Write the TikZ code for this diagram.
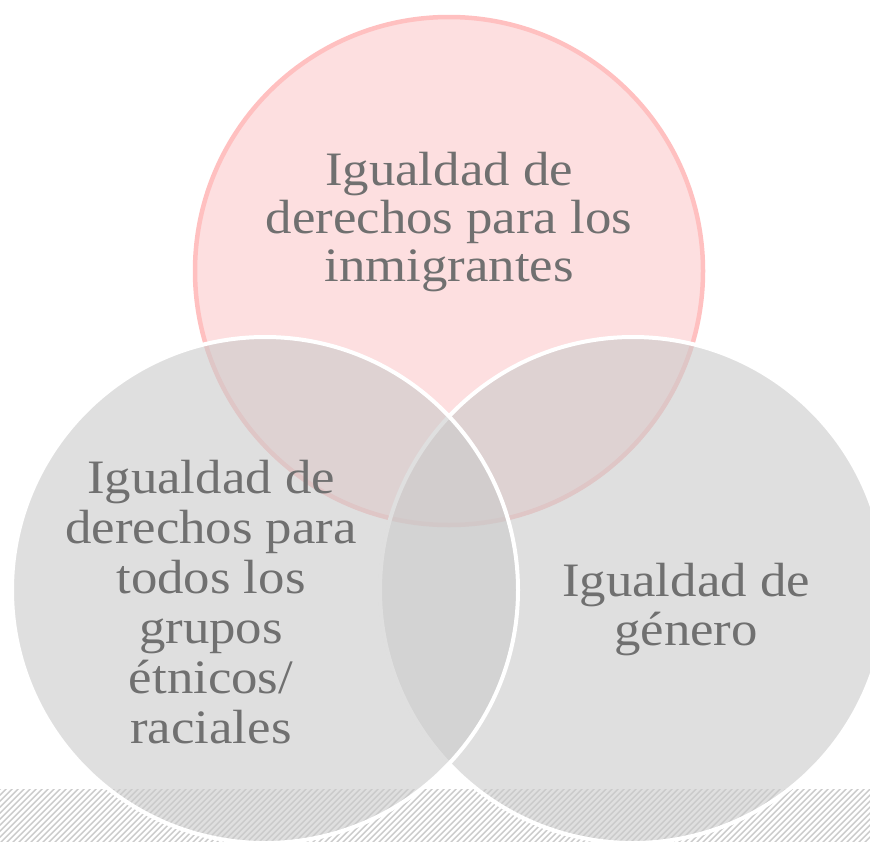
\documentclass[tikz,border=0pt]{standalone}
\usepackage{fontspec}
\setmainfont[FakeStretch=1.1]{Liberation Serif}
\definecolor{pinkfill}{HTML}{FDDFE0}
\definecolor{pinkline}{HTML}{FFC0C0}
\definecolor{grayfill}{HTML}{CACACA}
\definecolor{hatch}{HTML}{CACACA}
\definecolor{txt}{HTML}{707070}
\tikzset{
  pinkcirc/.style={fill=pinkfill, draw=pinkline, line width=4.5pt},
  graycirc/.style={fill=grayfill, fill opacity=0.6, draw=white, draw opacity=1, line width=4pt},
  label/.style={text=txt, align=center, inner sep=0pt, anchor=base},
  hatchline/.style={draw=hatch, line width=1.4pt}
}
\begin{document}
\begin{tikzpicture}[x=1pt,y=-1pt]
\useasboundingbox (0,0) rectangle (870,841);
\clip (0,0) rectangle (870,841);
\begin{scope}
  \clip (0,789) rectangle (870,841);
  \foreach \i in {-60,-54,...,870} {
    \draw[hatchline] (\i,843) -- (\i+56,787);
  }
\end{scope}
\draw[pinkcirc] (449,271) circle[radius=254];
\draw[graycirc] (633,590) circle[radius=253];
\draw[graycirc] (265,590) circle[radius=253];
\node[label, font=\fontsize{48}{48}\selectfont] (top) at (449,281) {Igualdad de\\derechos para los\\inmigrantes};
\node[label, font=\fontsize{48}{50}\selectfont] (left) at (211,743) {Igualdad de\\derechos para\\todos los\\grupos\\étnicos/\\raciales};
\node[label, font=\fontsize{48}{49}\selectfont] (right) at (686,645) {Igualdad de\\género};
\end{tikzpicture}
\end{document}
